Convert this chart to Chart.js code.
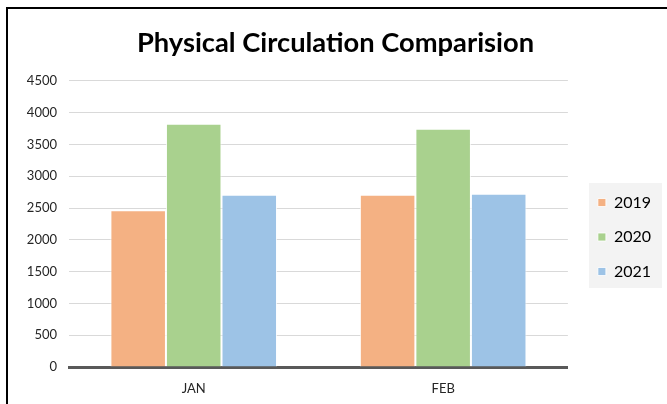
<!DOCTYPE html>
<html>
<head>
<meta charset="utf-8">
<script src="https://cdn.jsdelivr.net/npm/chart.js@4.4.1/dist/chart.umd.min.js"></script>
<style>
  html, body { margin: 0; padding: 0; background: #fff; }
  #wrap { position: relative; width: 667px; height: 404px; }
  #frame {
    position: absolute; left: 6px; top: 7px; right: 0; bottom: 0;
    border-top: 2px solid #000; border-left: 2px solid #000;
    pointer-events: none;
  }
</style>
</head>
<body>
<div id="wrap">
  <canvas id="chart" width="667" height="404"></canvas>
  <div id="frame"></div>
</div>
<script>
const months = ['JAN', 'FEB'];
const years = ['2019', '2020', '2021'];
const values2019 = [2465, 2710];
const values2020 = [3825, 3750];
const values2021 = [2710, 2725];
const yTicks = [0, 500, 1000, 1500, 2000, 2500, 3000, 3500, 4000, 4500];

const colors = ['#F4B183', '#A9D18E', '#9DC3E6'];
const FONT = 'Lato, Carlito, "Open Sans", sans-serif';

// grey box behind the legend, and push the legend items down a bit
const legendBg = {
  id: 'legendBg',
  afterLayout(chart) {
    const lg = chart.legend;
    lg.top += 30;
    lg.bottom += 30;
  },
  beforeDatasetsDraw(chart) {
    // legend is already drawn at this point, so paint behind its text with 'destination-over'
    const ctx = chart.ctx;
    ctx.save();
    ctx.globalCompositeOperation = 'destination-over';
    ctx.fillStyle = '#f3f3f3';
    ctx.fillRect(589, 183, 73, 105);
    ctx.restore();
  }
};

const chart = new Chart(document.getElementById('chart'), {
  type: 'bar',
  data: {
    labels: months,
    datasets: [
      { label: years[0], data: values2019, backgroundColor: colors[0] },
      { label: years[1], data: values2020, backgroundColor: colors[1] },
      { label: years[2], data: values2021, backgroundColor: colors[2] },
    ].map(d => Object.assign(d, {
      borderColor: 'rgba(255,255,255,0.8)',
      borderWidth: 1,
      categoryPercentage: 0.668,
      barPercentage: 1.0,
    })),
  },
  options: {
    responsive: false,
    animation: false,
    devicePixelRatio: 1,
    layout: { padding: { top: 10, left: 10, right: 6, bottom: 0 } },
    plugins: {
      title: {
        display: true,
        text: 'Physical Circulation Comparision',
        color: '#000',
        font: { family: FONT, size: 27.3, weight: 'bold' },
        padding: { top: 17, bottom: 21.2 },
      },
      legend: {
        position: 'right',
        labels: {
          boxWidth: 8,
          boxHeight: 8,
          padding: 18.5,
          color: '#000',
          font: { family: FONT, size: 16 },
        },
      },
      tooltip: { enabled: false },
    },
    scales: {
      x: {
        grid: { display: false, drawTicks: false },
        border: { display: true, color: '#595959', width: 3 },
        ticks: { color: '#262626', padding: 14, font: { family: FONT, size: 13 } },
        afterFit(scale) { scale.height = 37; },
      },
      y: {
        min: 0,
        max: 4500,
        afterBuildTicks(scale) { scale.ticks = yTicks.map(v => ({ value: v })); },
        afterFit(scale) { scale.width = 59; },
        grid: { color: '#d9d9d9', lineWidth: 1, drawTicks: false },
        border: { display: false },
        ticks: {
          color: '#262626',
          padding: 12,
          font: { family: FONT, size: 13 },
          callback: v => String(v),
        },
      },
      spacer: {
        position: 'right',
        display: true,
        grid: { display: false },
        border: { display: false },
        ticks: { display: false },
        afterFit(scale) { scale.width = 11.5; },
      },
    },
  },
  plugins: [legendBg],
});
</script>
</body>
</html>
